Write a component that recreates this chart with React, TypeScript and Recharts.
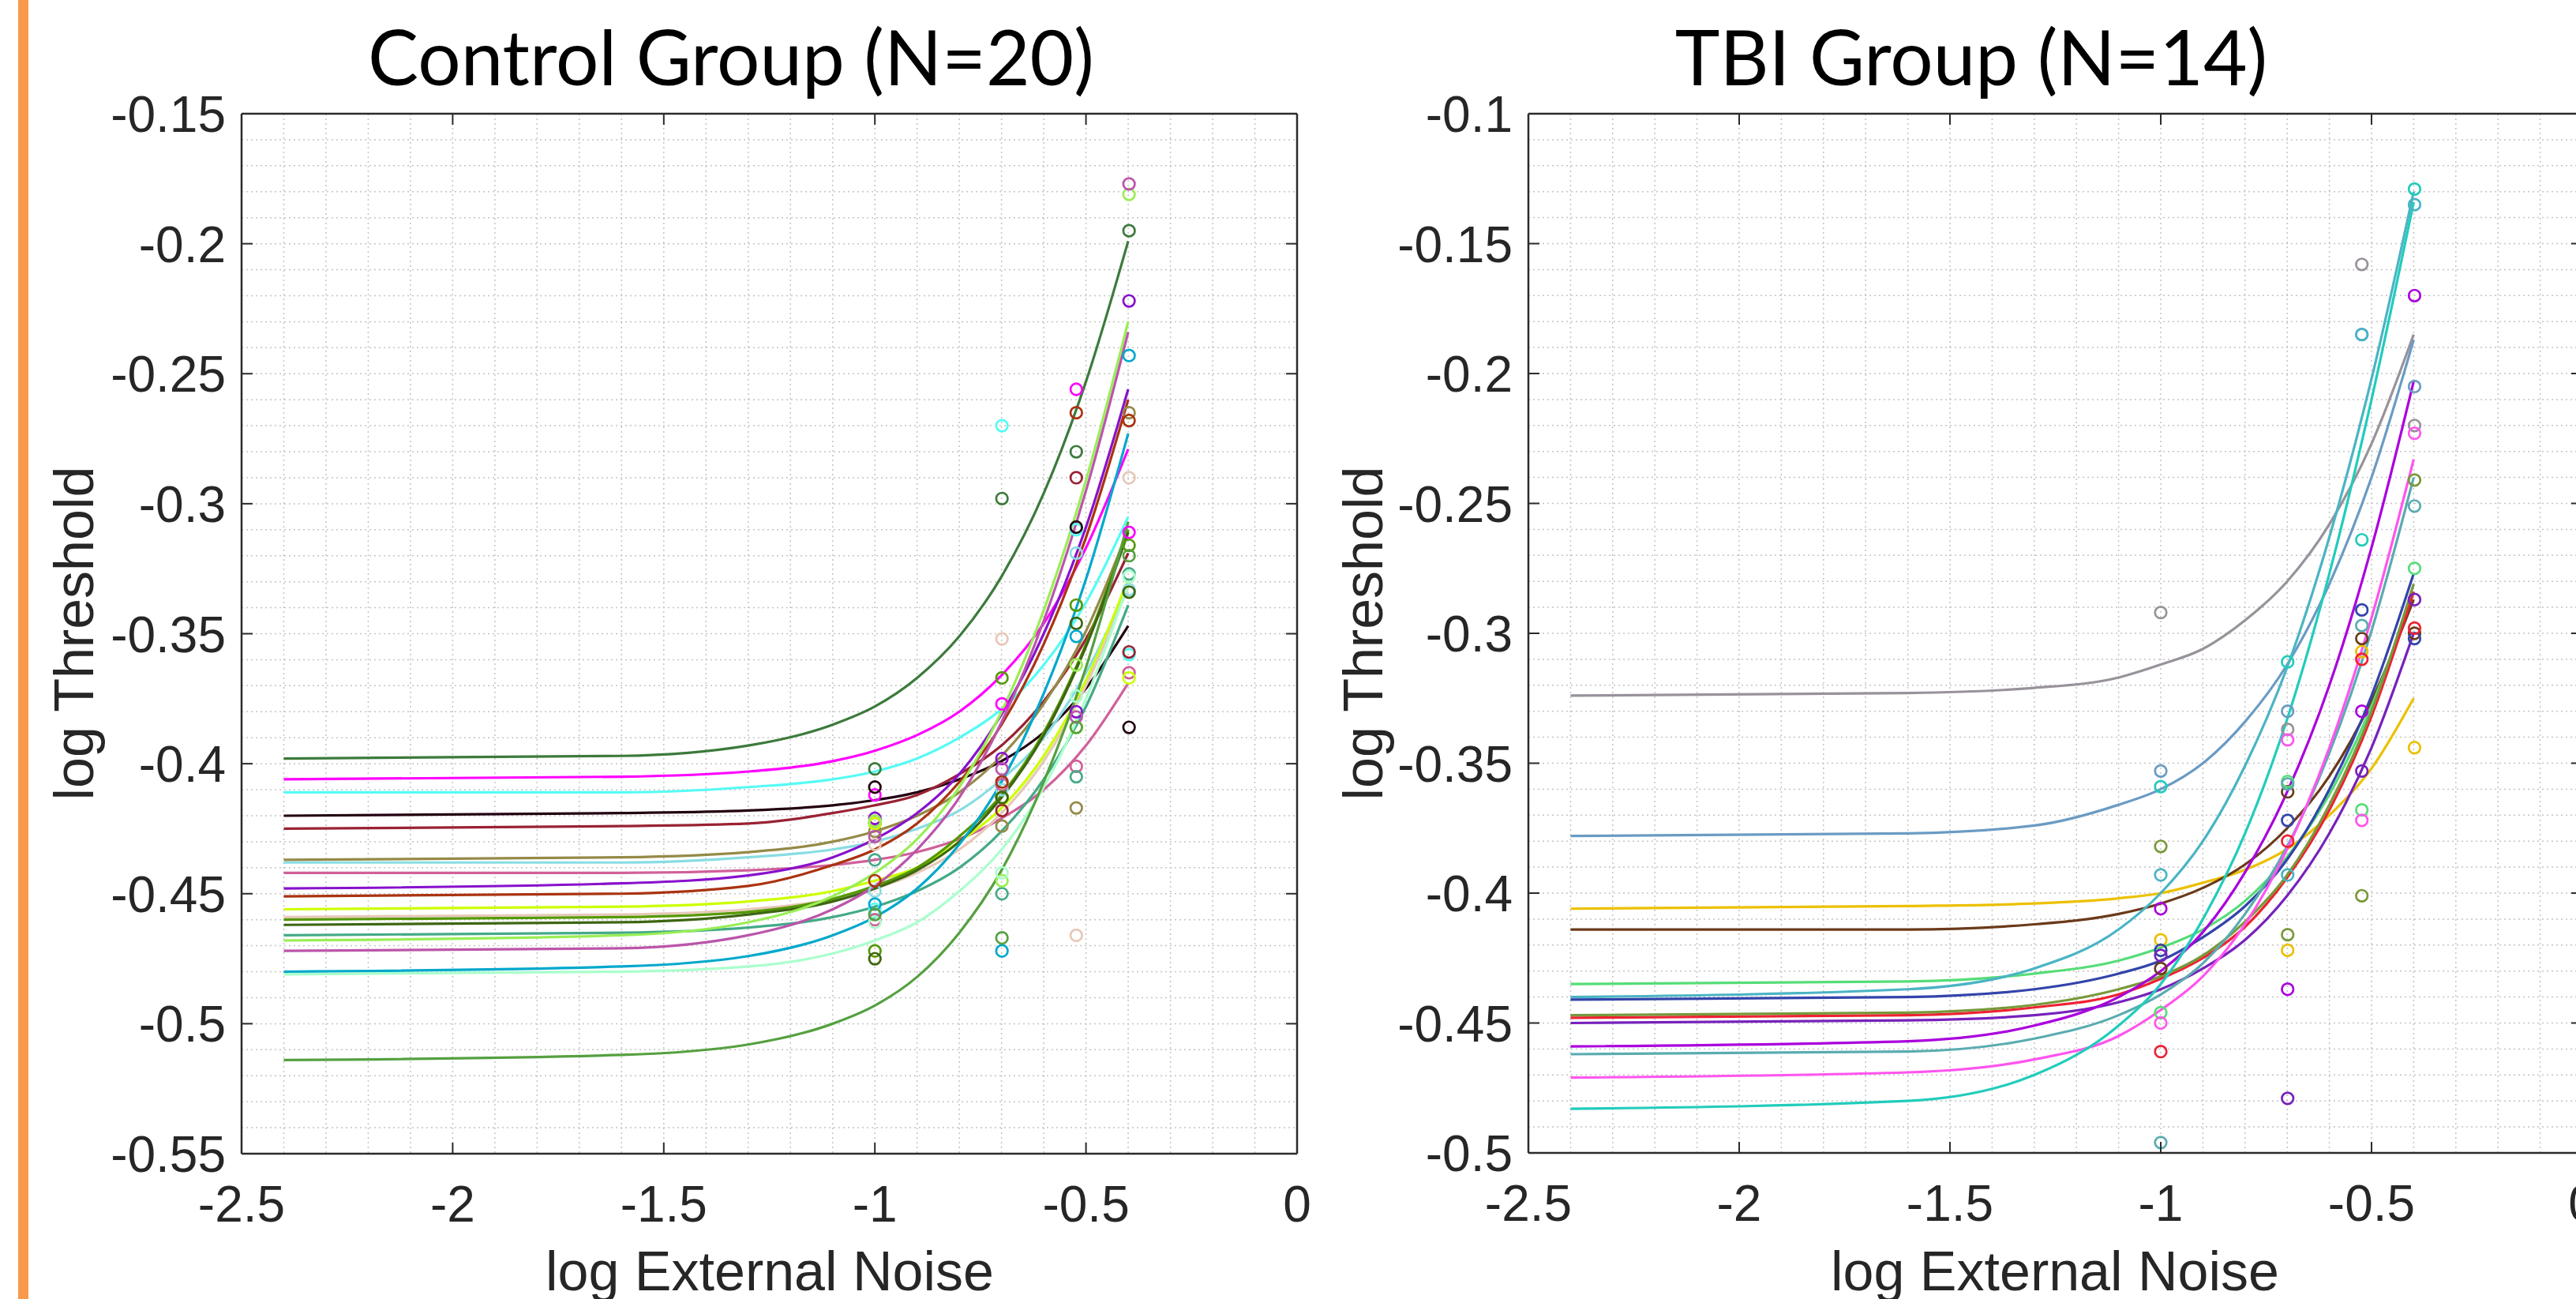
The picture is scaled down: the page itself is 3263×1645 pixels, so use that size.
import React from 'react';
import { ComposedChart, Line, Scatter, XAxis, YAxis, CartesianGrid } from 'recharts';

// x positions of the fitted curves and of the four noise levels (log10 of 0.1, 0.2, 0.3, 0.4)
const CURVE_X = [-2.4, -1.6, -1.3, -1.1, -1.0, -0.9, -0.8, -0.7, -0.6, -0.5, -0.4];
const NOISE_X = [-1, -0.699, -0.523, -0.398];

const X_TICKS = [-2.5, -2, -1.5, -1, -0.5, 0];
const CONTROL_Y_TICKS = [-0.55, -0.5, -0.45, -0.4, -0.35, -0.3, -0.25, -0.2, -0.15];
const TBI_Y_TICKS = [-0.5, -0.45, -0.4, -0.35, -0.3, -0.25, -0.2, -0.15, -0.1];

// Control group (N=20)
const controlColors = [
  '#3c7a3c', '#ff00ff', '#55fbf5', '#220011', '#992233',
  '#958a48', '#88dde3', '#d0609a', '#8811cc', '#aa3311',
  '#ccff00', '#e6c8b8', '#559900', '#3d6612', '#44aa88',
  '#99ee55', '#bb55aa', '#00a8cc', '#aaffcc', '#55a040',
];

const controlCurves = [
  [-0.398, -0.397, -0.393, -0.385, -0.378, -0.367, -0.351, -0.328, -0.296, -0.253, -0.199],
  [-0.406, -0.405, -0.403, -0.399, -0.395, -0.389, -0.380, -0.366, -0.346, -0.317, -0.279],
  [-0.411, -0.411, -0.409, -0.406, -0.403, -0.398, -0.390, -0.379, -0.362, -0.338, -0.305],
  [-0.420, -0.419, -0.418, -0.416, -0.414, -0.411, -0.406, -0.399, -0.388, -0.371, -0.347],
  [-0.425, -0.424, -0.423, -0.419, -0.416, -0.412, -0.404, -0.393, -0.376, -0.352, -0.319],
  [-0.437, -0.436, -0.434, -0.430, -0.426, -0.420, -0.411, -0.397, -0.377, -0.349, -0.310],
  [-0.438, -0.438, -0.436, -0.433, -0.430, -0.425, -0.418, -0.406, -0.390, -0.365, -0.332],
  [-0.442, -0.442, -0.441, -0.439, -0.437, -0.434, -0.429, -0.421, -0.410, -0.393, -0.369],
  [-0.448, -0.446, -0.443, -0.436, -0.429, -0.419, -0.404, -0.381, -0.350, -0.309, -0.256],
  [-0.451, -0.450, -0.447, -0.439, -0.433, -0.423, -0.407, -0.385, -0.354, -0.313, -0.260],
  [-0.456, -0.455, -0.453, -0.449, -0.445, -0.440, -0.430, -0.417, -0.397, -0.368, -0.329],
  [-0.459, -0.458, -0.456, -0.452, -0.448, -0.442, -0.433, -0.419, -0.399, -0.370, -0.332],
  [-0.460, -0.459, -0.457, -0.452, -0.447, -0.440, -0.428, -0.412, -0.388, -0.354, -0.310],
  [-0.462, -0.461, -0.458, -0.453, -0.448, -0.441, -0.430, -0.413, -0.389, -0.355, -0.311],
  [-0.466, -0.465, -0.463, -0.459, -0.455, -0.449, -0.440, -0.426, -0.406, -0.378, -0.339],
  [-0.468, -0.466, -0.461, -0.451, -0.442, -0.429, -0.409, -0.380, -0.341, -0.291, -0.230],
  [-0.472, -0.471, -0.466, -0.456, -0.447, -0.433, -0.413, -0.384, -0.345, -0.295, -0.234],
  [-0.480, -0.478, -0.474, -0.466, -0.459, -0.448, -0.431, -0.407, -0.373, -0.329, -0.273],
  [-0.481, -0.480, -0.478, -0.473, -0.468, -0.461, -0.449, -0.433, -0.409, -0.375, -0.331],
  [-0.514, -0.512, -0.508, -0.500, -0.493, -0.482, -0.465, -0.441, -0.407, -0.363, -0.307],
];

const controlPoints = [
  [-0.402, -0.298, -0.280, -0.195],
  [-0.412, -0.377, -0.256, -0.311],
  [-0.456, -0.270, -0.310, -0.358],
  [-0.409, -0.413, -0.309, -0.386],
  [-0.423, -0.418, -0.290, -0.357],
  [-0.426, -0.424, -0.417, -0.265],
  [-0.449, -0.410, -0.319, -0.333],
  [-0.460, -0.408, -0.401, -0.365],
  [-0.421, -0.398, -0.380, -0.222],
  [-0.445, -0.407, -0.265, -0.268],
  [-0.423, -0.413, -0.386, -0.367],
  [-0.431, -0.352, -0.466, -0.290],
  [-0.472, -0.367, -0.339, -0.316],
  [-0.475, -0.413, -0.346, -0.334],
  [-0.437, -0.450, -0.405, -0.327],
  [-0.422, -0.445, -0.362, -0.181],
  [-0.428, -0.402, -0.382, -0.177],
  [-0.454, -0.472, -0.351, -0.243],
  [-0.461, -0.442, -0.374, -0.328],
  [-0.458, -0.467, -0.386, -0.320],
];

// TBI group (N=14)
const tbiColors = [
  '#98929b', '#6a9bc3', '#ecc000', '#6b3a1a', '#55dd77',
  '#4ab4c4', '#3344aa', '#ee2233', '#77993a', '#7722bb',
  '#aa00dd', '#5aacb0', '#ff55ee', '#22ccbb',
];

const tbiCurves = [
  [-0.324, -0.323, -0.321, -0.317, -0.312, -0.306, -0.295, -0.280, -0.258, -0.227, -0.185],
  [-0.378, -0.377, -0.374, -0.366, -0.360, -0.350, -0.334, -0.312, -0.281, -0.240, -0.187],
  [-0.406, -0.405, -0.404, -0.402, -0.400, -0.396, -0.391, -0.383, -0.370, -0.352, -0.325],
  [-0.414, -0.414, -0.412, -0.408, -0.404, -0.398, -0.389, -0.375, -0.355, -0.326, -0.287],
  [-0.435, -0.434, -0.431, -0.426, -0.421, -0.414, -0.403, -0.386, -0.362, -0.328, -0.284],
  [-0.440, -0.437, -0.429, -0.414, -0.400, -0.380, -0.351, -0.313, -0.263, -0.202, -0.130],
  [-0.441, -0.440, -0.437, -0.431, -0.426, -0.417, -0.405, -0.387, -0.360, -0.324, -0.277],
  [-0.448, -0.447, -0.444, -0.439, -0.433, -0.425, -0.413, -0.394, -0.368, -0.332, -0.284],
  [-0.447, -0.446, -0.443, -0.437, -0.432, -0.424, -0.411, -0.393, -0.366, -0.330, -0.281],
  [-0.450, -0.449, -0.447, -0.442, -0.437, -0.429, -0.418, -0.401, -0.377, -0.344, -0.300],
  [-0.459, -0.457, -0.451, -0.440, -0.430, -0.415, -0.392, -0.361, -0.320, -0.267, -0.203],
  [-0.462, -0.461, -0.456, -0.447, -0.439, -0.427, -0.408, -0.382, -0.346, -0.299, -0.240],
  [-0.471, -0.469, -0.464, -0.455, -0.445, -0.432, -0.412, -0.383, -0.344, -0.294, -0.233],
  [-0.483, -0.480, -0.470, -0.451, -0.435, -0.410, -0.377, -0.333, -0.277, -0.210, -0.134],
];

const tbiPoints = [
  [-0.292, -0.337, -0.158, -0.220],
  [-0.353, -0.330, -0.185, -0.205],
  [-0.418, -0.422, -0.307, -0.344],
  [-0.429, -0.361, -0.302, -0.300],
  [-0.446, -0.357, -0.368, -0.275],
  [-0.393, -0.393, -0.185, -0.135],
  [-0.422, -0.372, -0.291, -0.302],
  [-0.461, -0.380, -0.310, -0.298],
  [-0.382, -0.416, -0.401, -0.241],
  [-0.424, -0.479, -0.353, -0.287],
  [-0.406, -0.437, -0.330, -0.170],
  [-0.496, -0.358, -0.297, -0.251],
  [-0.450, -0.341, -0.372, -0.223],
  [-0.359, -0.311, -0.264, -0.129],
];

const AXIS_COLOR = '#2b2b2b';
const TICK_FONT = '"Liberation Sans", Arial, Helvetica, sans-serif';
const TICK_LEN = 14;

function steps(from: number, to: number, step: number, digits: number) {
  const out: number[] = [];
  const n = Math.round((to - from) / step);
  for (let i = 0; i <= n; i++) out.push(Number((from + i * step).toFixed(digits)));
  return out;
}

const BottomTick = (props: any) => {
  const { x, y, payload } = props;
  return (
    <g>
      <line x1={x} x2={x} y1={y} y2={y - TICK_LEN} stroke={AXIS_COLOR} strokeWidth={2} />
      <text x={x} y={y + 86} textAnchor="middle" fontFamily={TICK_FONT} fontSize={64} fill="#262626">
        {String(payload.value)}
      </text>
    </g>
  );
};

const TopTick = (props: any) => {
  const { x, y } = props;
  return <line x1={x} x2={x} y1={y} y2={y + TICK_LEN} stroke={AXIS_COLOR} strokeWidth={2} />;
};

const LeftTick = (props: any) => {
  const { x, y, payload } = props;
  return (
    <g>
      <line x1={x} x2={x + TICK_LEN} y1={y} y2={y} stroke={AXIS_COLOR} strokeWidth={2} />
      <text x={x - 20} y={y + 23} textAnchor="end" fontFamily={TICK_FONT} fontSize={64} fill="#262626">
        {String(payload.value)}
      </text>
    </g>
  );
};

const RightTick = (props: any) => {
  const { x, y } = props;
  return <line x1={x} x2={x - TICK_LEN} y1={y} y2={y} stroke={AXIS_COLOR} strokeWidth={2} />;
};

interface PanelProps {
  width: number;
  margin: { top: number; right: number; bottom: number; left: number };
  yTicks: number[];
  colors: string[];
  curves: number[][];
  points: number[][];
}

function Panel({ width, margin, yTicks, colors, curves, points }: PanelProps) {
  const yDomain: [number, number] = [yTicks[0], yTicks[yTicks.length - 1]];
  const vGrid = steps(-2.5, 0, 0.1, 1);
  const hGrid = steps(yDomain[0], yDomain[1], 0.01, 2);
  const axisLine = { stroke: AXIS_COLOR, strokeWidth: 2.5 };

  return (
    <ComposedChart width={width} height={1645} margin={margin}>
      <CartesianGrid
        xAxisId="b"
        yAxisId="l"
        verticalValues={vGrid}
        horizontalValues={hGrid}
        stroke="#c4c4c4"
        strokeWidth={1.5}
        strokeDasharray="2 4"
      />
      <XAxis
        xAxisId="b"
        type="number"
        dataKey="x"
        domain={[-2.5, 0]}
        ticks={X_TICKS}
        interval={0}
        allowDataOverflow
        height={1}
        tickSize={0}
        tickMargin={0}
        tickLine={false}
        axisLine={axisLine}
        tick={BottomTick}
      />
      <XAxis
        xAxisId="t"
        orientation="top"
        type="number"
        dataKey="x"
        domain={[-2.5, 0]}
        ticks={X_TICKS}
        interval={0}
        allowDataOverflow
        height={1}
        tickSize={0}
        tickMargin={0}
        tickLine={false}
        axisLine={axisLine}
        tick={TopTick}
      />
      <YAxis
        yAxisId="l"
        type="number"
        dataKey="y"
        domain={yDomain}
        ticks={yTicks}
        interval={0}
        allowDataOverflow
        width={1}
        tickSize={0}
        tickMargin={0}
        tickLine={false}
        axisLine={axisLine}
        tick={LeftTick}
      />
      <YAxis
        yAxisId="r"
        orientation="right"
        type="number"
        dataKey="y"
        domain={yDomain}
        ticks={yTicks}
        interval={0}
        allowDataOverflow
        width={1}
        tickSize={0}
        tickMargin={0}
        tickLine={false}
        axisLine={axisLine}
        tick={RightTick}
      />
      {colors.map((c, i) => (
        <Line
          key={'l' + i}
          xAxisId="b"
          yAxisId="l"
          data={curves[i].map((y, j) => ({ x: CURVE_X[j], y }))}
          dataKey="y"
          type="monotone"
          stroke={c}
          strokeWidth={3.2}
          dot={false}
          activeDot={false}
          isAnimationActive={false}
        />
      ))}
      {colors.map((c, i) => (
        <Scatter
          key={'s' + i}
          xAxisId="b"
          yAxisId="l"
          data={points[i].map((y, j) => ({ x: NOISE_X[j], y }))}
          dataKey="y"
          isAnimationActive={false}
          shape={(p: any) => (
            <circle cx={p.cx} cy={p.cy} r={7.3} fill="none" stroke={c} strokeWidth={2.7} />
          )}
        />
      ))}
    </ComposedChart>
  );
}

const labelFont = '"Liberation Sans", Arial, Helvetica, sans-serif';
const titleFont = 'Lato, "Open Sans", sans-serif';

export default function App() {
  return (
    <div
      style={{
        position: 'fixed',
        left: 0,
        top: 0,
        width: 3263,
        height: 1645,
        overflow: 'hidden',
        background: '#ffffff',
      }}
    >
      <div style={{ position: 'absolute', left: 0, top: 0 }}>
        <Panel
          width={1680}
          margin={{ top: 143, right: 36, bottom: 183, left: 305 }}
          yTicks={CONTROL_Y_TICKS}
          colors={controlColors}
          curves={controlCurves}
          points={controlPoints}
        />
      </div>
      <div style={{ position: 'absolute', left: 1680, top: 0 }}>
        <Panel
          width={1640}
          margin={{ top: 143, right: 48, bottom: 184, left: 255 }}
          yTicks={TBI_Y_TICKS}
          colors={tbiColors}
          curves={tbiCurves}
          points={tbiPoints}
        />
      </div>
      <svg
        width={3263}
        height={1645}
        style={{ position: 'absolute', left: 0, top: 0, pointerEvents: 'none' }}
      >
        <rect x={23} y={0} width={13} height={1645} fill="#f79a4a" />
        <text x={926} y={108} textAnchor="middle" fontFamily={titleFont} fontSize={96} fill="#000">
          Control Group (N=20)
        </text>
        <text x={2497} y={108} textAnchor="middle" fontFamily={titleFont} fontSize={96} fill="#000">
          TBI Group (N=14)
        </text>
        <text x={975} y={1634} textAnchor="middle" fontFamily={labelFont} fontSize={70} fill="#262626">
          log External Noise
        </text>
        <text x={2603} y={1634} textAnchor="middle" fontFamily={labelFont} fontSize={70} fill="#262626">
          log External Noise
        </text>
        <text
          x={94}
          y={802}
          transform="rotate(-90 94 802)"
          textAnchor="middle"
          dominantBaseline="central"
          fontFamily={labelFont}
          fontSize={70}
          fill="#262626"
        >
          log Threshold
        </text>
        <text
          x={1727}
          y={802}
          transform="rotate(-90 1727 802)"
          textAnchor="middle"
          dominantBaseline="central"
          fontFamily={labelFont}
          fontSize={70}
          fill="#262626"
        >
          log Threshold
        </text>
      </svg>
    </div>
  );
}
